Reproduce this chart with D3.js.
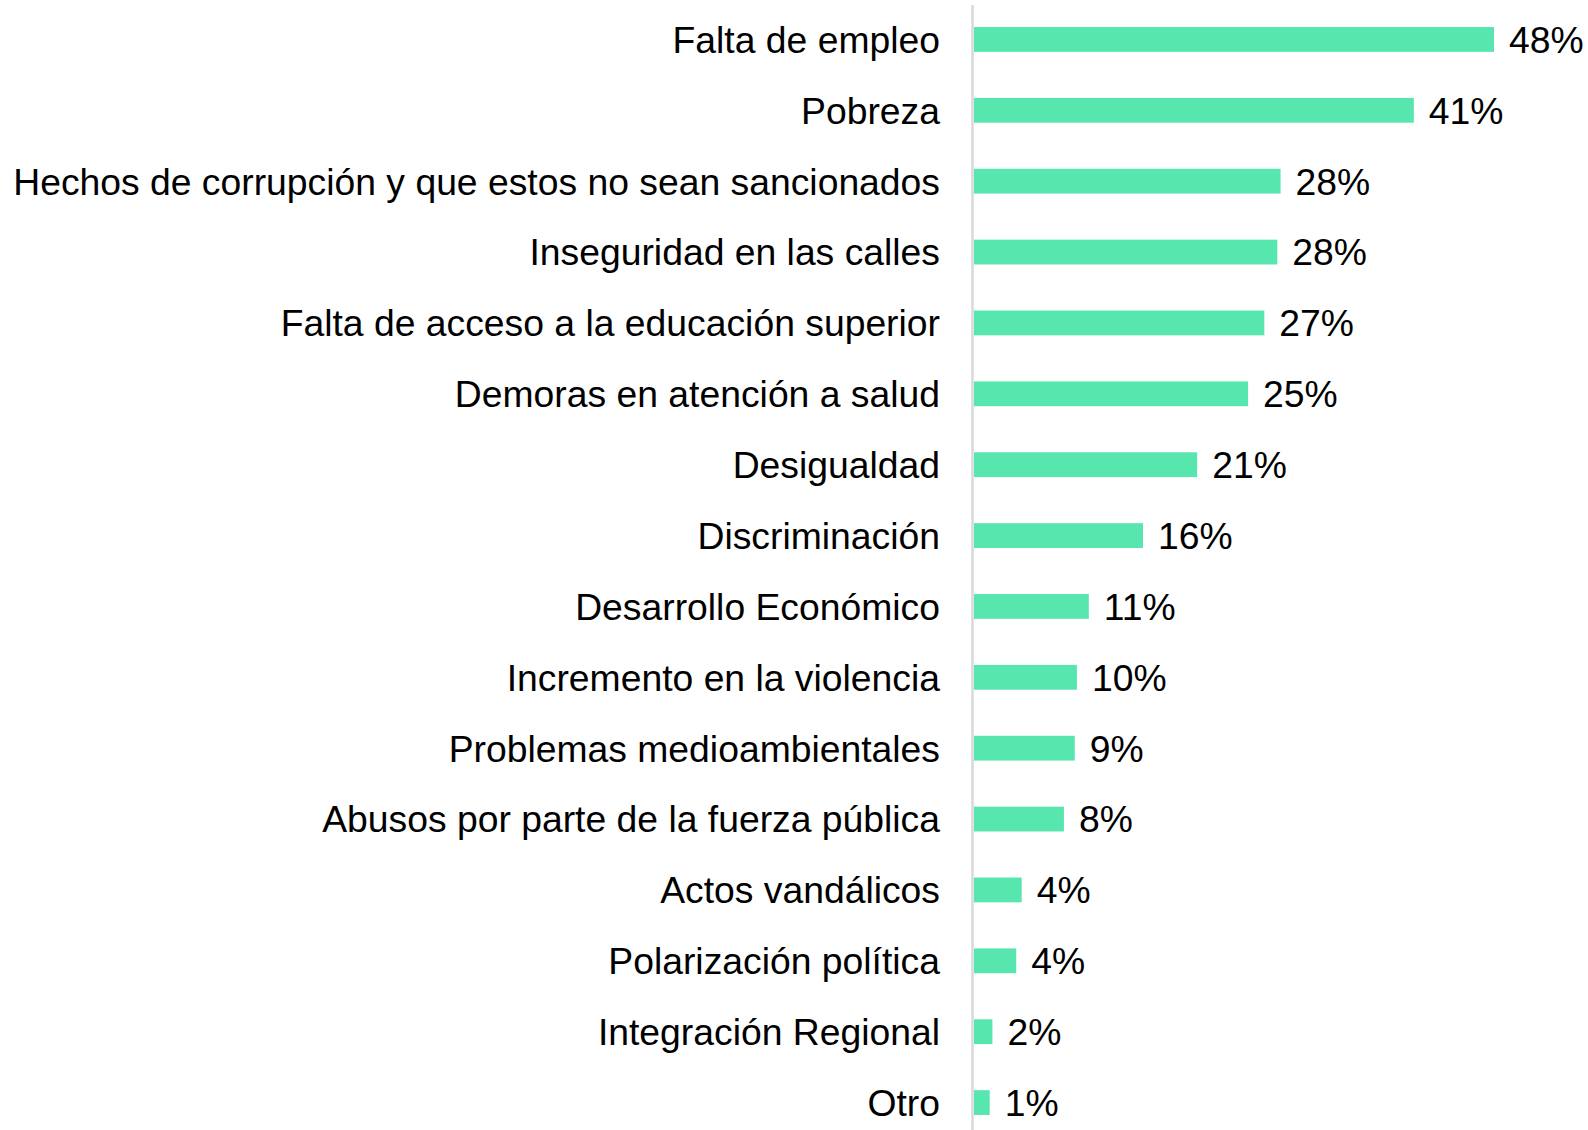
<!DOCTYPE html>
<html>
<head>
<meta charset="utf-8">
<script src="https://cdn.jsdelivr.net/npm/d3@7"></script>
<style>
  body { margin: 0; background: #fff; }
  svg { display: block; }
  text { font-family: "Liberation Sans", Arial, sans-serif; fill: #000; }
</style>
</head>
<body>
<div id="myPlot"></div>
<script>
// categories, top to bottom
const categories = [
    "Falta de empleo",
    "Pobreza",
    "Hechos de corrupción y que estos no sean sancionados",
    "Inseguridad en las calles",
    "Falta de acceso a la educación superior",
    "Demoras en atención a salud",
    "Desigualdad",
    "Discriminación",
    "Desarrollo Económico",
    "Incremento en la violencia",
    "Problemas medioambientales",
    "Abusos por parte de la fuerza pública",
    "Actos vandálicos",
    "Polarización política",
    "Integración Regional",
    "Otro"
]
// values (%)
const values = [48.0, 40.6, 28.3, 28.0, 26.8, 25.3, 20.6, 15.6, 10.6, 9.5, 9.3, 8.3, 4.4, 3.9, 1.7, 1.45]
// value labels as printed
const valueLabels = ["48%", "41%", "28%", "28%", "27%", "25%", "21%", "16%", "11%", "10%", "9%", "8%", "4%", "4%", "2%", "1%"]

const width = 1588
const height = 1130
const x0 = 974

const svg = d3.select("#myPlot")
    .append("svg")
    .attr("width", width)
    .attr("height", height)

// X scale
const x = d3.scaleLinear()
    .domain([0, 48])
    .range([x0, 1494])

// Y scale (rows run past the bottom edge, as in the original)
const y = d3.scaleBand()
    .domain(categories)
    .range([4, 1138])
    .paddingInner(0.65)
    .paddingOuter(0.325)

// Bars
svg.append("g")
    .selectAll("rect")
    .data(values)
    .enter()
    .append("rect")
    .attr("x", x(0))
    .attr("y", function (d, i) { return y(categories[i]) })
    .attr("width", function (d) { return x(d) - x(0) })
    .attr("height", y.bandwidth())
    .style("fill", "#58E6AF")

// Category labels
svg.append("g")
    .selectAll("text")
    .data(categories)
    .enter()
    .append("text")
    .attr("x", 940)
    .attr("y", function (d) { return y(d) + y.bandwidth() / 2 })
    .attr("dy", "0.36em")
    .attr("text-anchor", "end")
    .style("font-size", "37.3px")
    .text(function (d) { return d })

// Value labels
svg.append("g")
    .selectAll("text")
    .data(values)
    .enter()
    .append("text")
    .attr("x", function (d) { return x(d) + 15 })
    .attr("y", function (d, i) { return y(categories[i]) + y.bandwidth() / 2 })
    .attr("dy", "0.36em")
    .style("font-size", "37.3px")
    .text(function (d, i) { return valueLabels[i] })

// Vertical axis line
svg.append("line")
    .attr("x1", 972.5)
    .attr("x2", 972.5)
    .attr("y1", 5)
    .attr("y2", height)
    .style("stroke", "#D9D9D9")
    .style("stroke-width", 2.5)
</script>
</body>
</html>
